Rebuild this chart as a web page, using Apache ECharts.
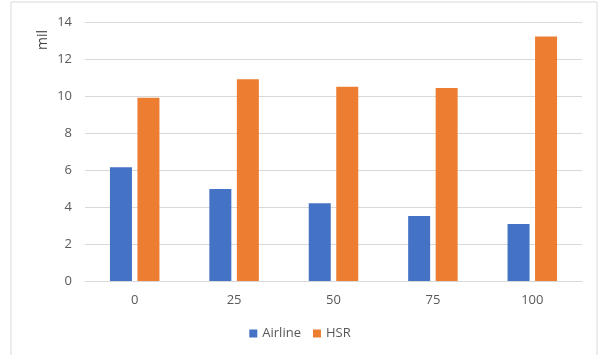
<!DOCTYPE html>
<html>
<head>
<meta charset="utf-8">
<script src="https://cdn.jsdelivr.net/npm/echarts@6/dist/echarts.min.js"></script>
<style>
  html, body { margin: 0; padding: 0; background: #fff; }
  #chart { width: 600px; height: 355px; }
</style>
</head>
<body>
<div id="chart"></div>
<script>
// values
let categories = ['0', '25', '50', '75', '100'];
let airline = [6.15, 4.97, 4.2, 3.51, 3.08];
let hsr = [9.91, 10.9, 10.5, 10.43, 13.22];
let yTicks = [0, 2, 4, 6, 8, 10, 12, 14];

let chartDom = document.getElementById('chart');
let myChart = echarts.init(chartDom);

let labelFont = {
    color: '#595959',
    fontFamily: 'Open Sans, Liberation Sans, sans-serif',
    fontSize: 13
};

let option = {
    animation: false,
    color: ['#4472c4', '#ed7d31'],
    grid: {
        left: 85,
        right: 18,
        top: 22,
        bottom: 74,
        outerBoundsMode: 'none'
    },
    graphic: [{
        type: 'rect',
        shape: { x: 11, y: 2, width: 586, height: 360 },
        style: { fill: 'none', stroke: '#d9d9d9', lineWidth: 1 },
        silent: true
    }, {
        // axis title, rotated like the reference
        type: 'text',
        x: 43,
        y: 40,
        rotation: Math.PI / 2,
        style: {
            text: 'mil',
            fill: '#404040',
            font: '14px Open Sans, Liberation Sans, sans-serif',
            align: 'center',
            verticalMiddle: 'middle',
            verticalAlign: 'middle'
        },
        silent: true
    }],
    legend: {
        bottom: 10,
        left: 'center',
        itemWidth: 8,
        itemHeight: 8,
        itemGap: 12,
        icon: 'rect',
        textStyle: labelFont,
        data: ['Airline', 'HSR']
    },
    xAxis: {
        type: 'category',
        data: categories,
        axisTick: { show: false },
        axisLine: { lineStyle: { color: '#d9d9d9' } },
        axisLabel: Object.assign({ margin: 13 }, labelFont)
    },
    yAxis: {
        type: 'value',
        min: yTicks[0],
        max: yTicks[yTicks.length - 1],
        interval: 2,
        axisLabel: Object.assign({ margin: 13 }, labelFont),
        splitLine: { lineStyle: { color: '#d9d9d9' } }
    },
    series: [{
        name: 'Airline',
        type: 'bar',
        data: airline,
        barWidth: 22,
        barGap: '25%'
    }, {
        name: 'HSR',
        type: 'bar',
        data: hsr,
        barWidth: 22,
        barGap: '25%'
    }]
};

myChart.setOption(option);
</script>
</body>
</html>
